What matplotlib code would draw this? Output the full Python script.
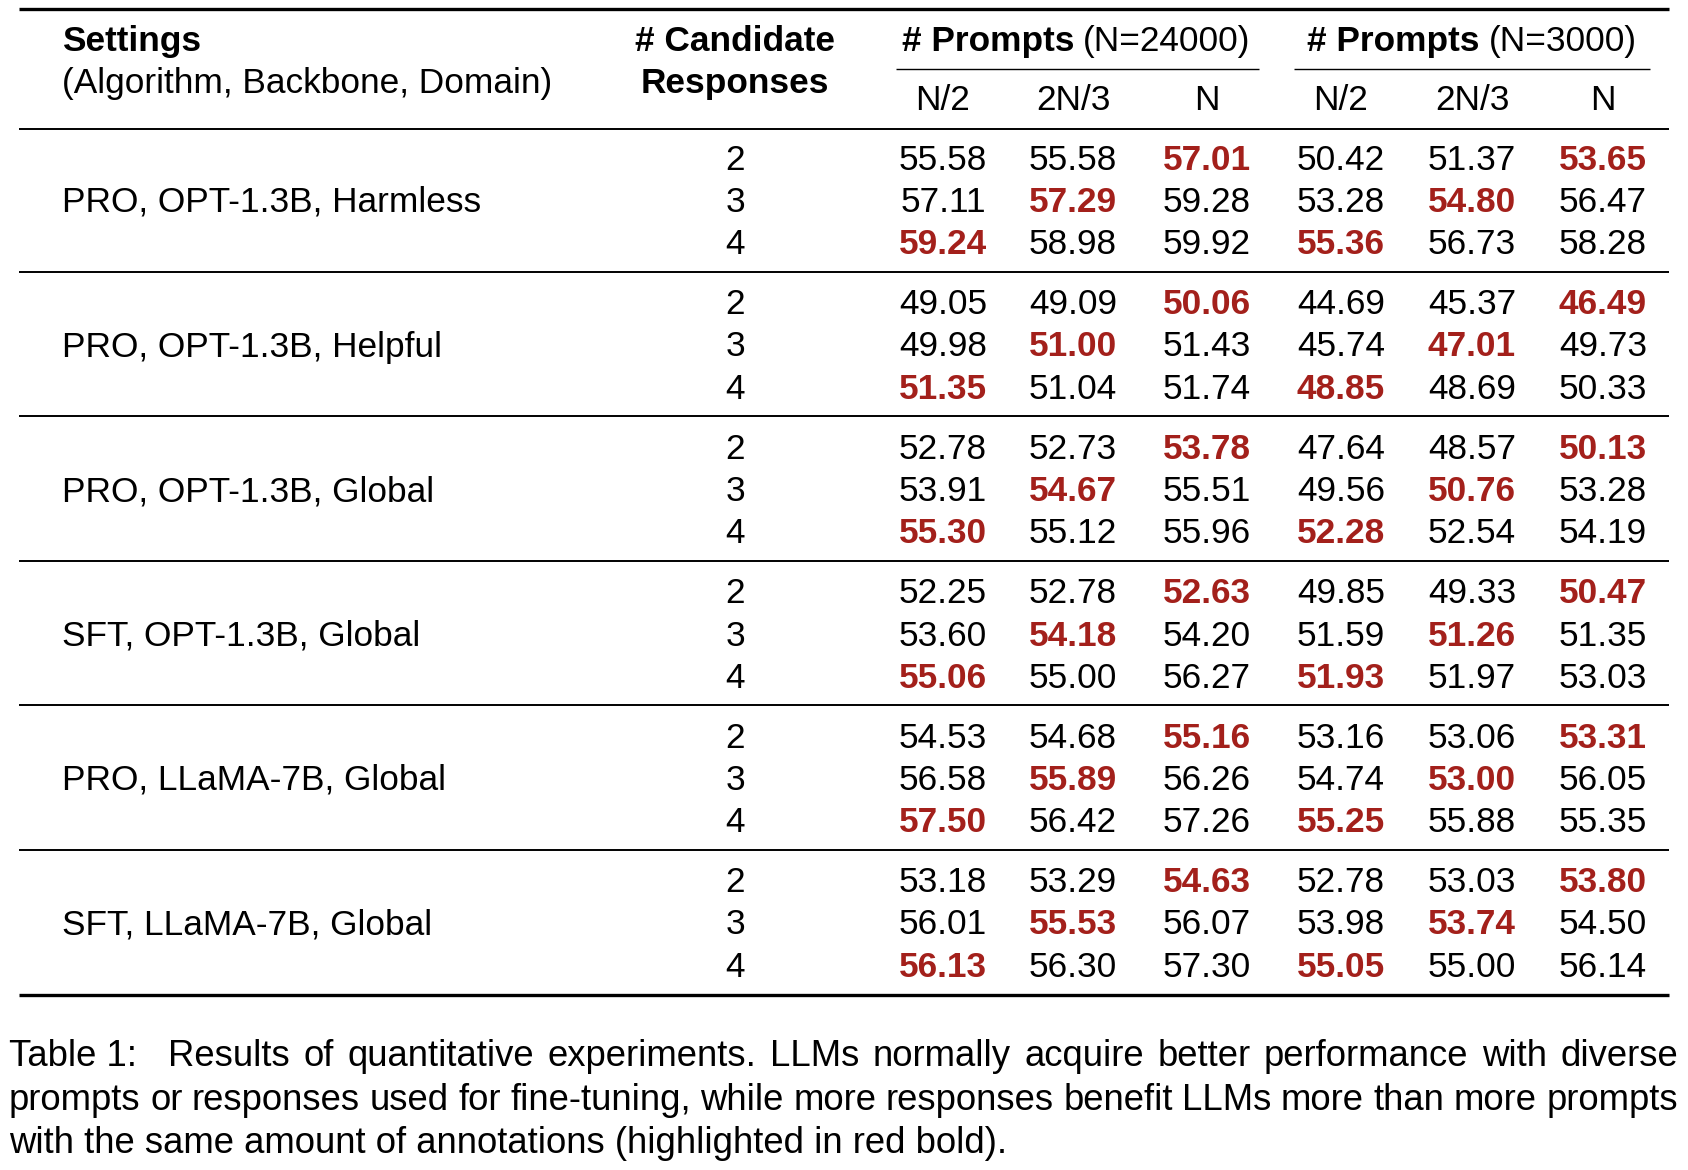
import matplotlib
matplotlib.use("Agg")
import matplotlib.pyplot as plt

# table content
settings = [
    "PRO, OPT-1.3B, Harmless",
    "PRO, OPT-1.3B, Helpful",
    "PRO, OPT-1.3B, Global",
    "SFT, OPT-1.3B, Global",
    "PRO, LLaMA-7B, Global",
    "SFT, LLaMA-7B, Global",
]
candidates = [2, 3, 4]
sub_cols = ["N/2", "2N/3", "N"]
prompt_groups = ["(N=24000)", "(N=3000)"]

# scores[setting][candidate row][column]
scores_24000 = [
    [[55.58, 55.58, 57.01], [57.11, 57.29, 59.28], [59.24, 58.98, 59.92]],
    [[49.05, 49.09, 50.06], [49.98, 51.00, 51.43], [51.35, 51.04, 51.74]],
    [[52.78, 52.73, 53.78], [53.91, 54.67, 55.51], [55.30, 55.12, 55.96]],
    [[52.25, 52.78, 52.63], [53.60, 54.18, 54.20], [55.06, 55.00, 56.27]],
    [[54.53, 54.68, 55.16], [56.58, 55.89, 56.26], [57.50, 56.42, 57.26]],
    [[53.18, 53.29, 54.63], [56.01, 55.53, 56.07], [56.13, 56.30, 57.30]],
]
scores_3000 = [
    [[50.42, 51.37, 53.65], [53.28, 54.80, 56.47], [55.36, 56.73, 58.28]],
    [[44.69, 45.37, 46.49], [45.74, 47.01, 49.73], [48.85, 48.69, 50.33]],
    [[47.64, 48.57, 50.13], [49.56, 50.76, 53.28], [52.28, 52.54, 54.19]],
    [[49.85, 49.33, 50.47], [51.59, 51.26, 51.35], [51.93, 51.97, 53.03]],
    [[53.16, 53.06, 53.31], [54.74, 53.00, 56.05], [55.25, 55.88, 55.35]],
    [[52.78, 53.03, 53.80], [53.98, 53.74, 54.50], [55.05, 55.00, 56.14]],
]

caption = [
    "Table 1:  Results of quantitative experiments. LLMs normally acquire better performance with diverse",
    "prompts or responses used for fine-tuning, while more responses benefit LLMs more than more prompts",
    "with the same amount of annotations (highlighted in red bold).",
]

RED = "#a3201b"
FONT = "Liberation Sans"
FS = 25.4
CAP_FS = 26.3

fig = plt.figure(figsize=(16.88, 11.70), dpi=100)
ax = fig.add_axes([0, 0, 1, 1])
ax.set_xlim(0, 1688)
ax.set_ylim(1170, 0)
ax.axis("off")
renderer = fig.canvas.get_renderer()

# half cap height in px, used to put text baselines from visual centres
half_cap = 0.36 * FS * 100 / 72


def txt(x, y, s, ha="center", bold=False, color="black"):
    return ax.text(x, y + half_cap, s, ha=ha, va="baseline", fontsize=FS,
                   family=FONT, fontweight="bold" if bold else "normal",
                   color=color)


def width(t):
    return t.get_window_extent(renderer).width


def rule(y, x0=19, x1=1669, lw=2.2):
    ax.plot([x0, x1], [y, y], color="black", lw=lw, solid_capstyle="butt")


# rules
rule(9, lw=2.4)
rule(129, lw=1.4)
rule(995, lw=2.4)

# header
txt(62, 38, "Settings", ha="left", bold=True)
txt(62, 80, "(Algorithm, Backbone, Domain)", ha="left")
txt(735, 38, "# Candidate", bold=True)
txt(735, 80, "Responses", bold=True)

group_cx = [1076, 1472]
cmid = [(896, 1259), (1294, 1650)]
col_x = [943, 1073, 1207, 1341, 1472, 1603]
for g, label in enumerate(prompt_groups):
    t1 = txt(0, 38, "# Prompts", ha="left", bold=True)
    t2 = txt(0, 38, label, ha="left")
    gap = 9
    w1, w2 = width(t1), width(t2)
    x0 = group_cx[g] - (w1 + gap + w2) / 2
    t1.set_x(x0)
    t2.set_x(x0 + w1 + gap)
    rule(69, cmid[g][0], cmid[g][1], lw=1.0)
    for k, s in enumerate(sub_cols):
        txt(col_x[g * 3 + k], 97, s)

# body
row0 = 157
row_step = 42.3
group_step = 144.5
for i, name in enumerate(settings):
    base = row0 + i * group_step
    txt(62, base + row_step, name, ha="left")
    for r, c in enumerate(candidates):
        y = base + r * row_step
        txt(735, y, str(c))
        vals = scores_24000[i][r] + scores_3000[i][r]
        for j, v in enumerate(vals):
            hi = (r + j % 3) == 2
            txt(col_x[j], y, f"{v:.2f}", bold=hi, color=RED if hi else "black")
    if i < len(settings) - 1:
        rule(base + 2 * row_step + 30, lw=1.4)

# caption, justified like the original
cap_y = [1053, 1097, 1140]
cap_half = 0.36 * CAP_FS * 100 / 72
left, right = 9, 1678
for n, line in enumerate(caption):
    y = cap_y[n] + cap_half
    if n == len(caption) - 1:
        ax.text(left, y, line, ha="left", va="baseline", fontsize=CAP_FS, family=FONT)
        continue
    words = line.split(" ")
    if line.startswith("Table 1:"):
        words = ["Table 1:"] + line[len("Table 1:"):].split()
    ts = [ax.text(0, y, w, ha="left", va="baseline", fontsize=CAP_FS, family=FONT)
          for w in words]
    ws = [width(t) for t in ts]
    extra = 18 if line.startswith("Table 1:") else 0
    gap = (right - left - sum(ws) - extra) / (len(words) - 1)
    x = left
    for k, t in enumerate(ts):
        t.set_x(x)
        x += ws[k] + gap + (extra if k == 0 else 0)

fig.savefig("out.png", dpi=100, facecolor="white")
